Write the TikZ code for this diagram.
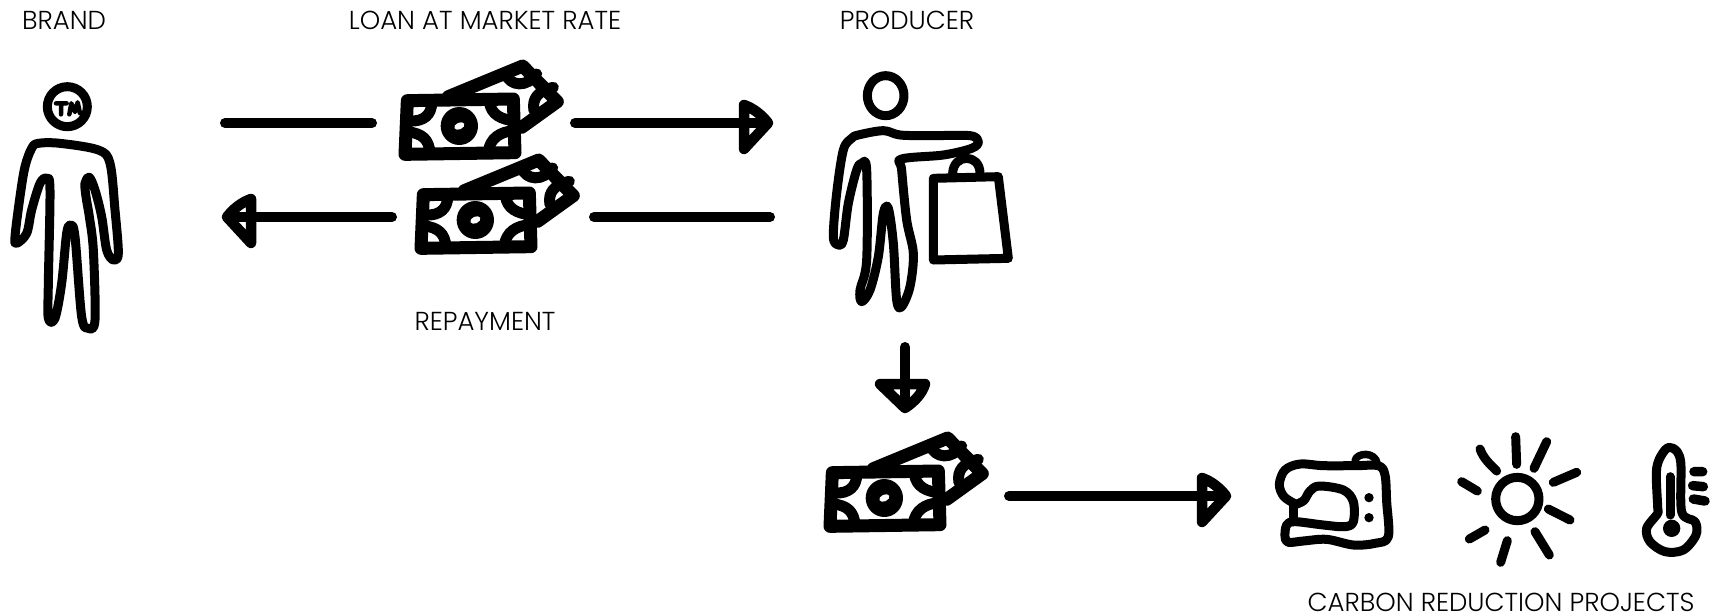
\documentclass[tikz,border=0pt]{standalone}
\usepackage{fontspec}
\setmainfont{Poppins}[UprightFont=* Light]
\tikzset{
  x=1pt,y=-1pt,
  ink/.style={draw=black,line width=9.5pt,line cap=round,line join=round},
  thinink/.style={draw=black,line width=9pt,line cap=round,line join=round},
  shaft/.style={draw=black,line width=10pt,line cap=round},
  headtip/.style={draw=black,line width=10.5pt,line join=round,line cap=round},
  lab/.style={font=\fontsize{26}{30}\selectfont,text=black,inner sep=0pt,anchor=center},
  money/.pic={
    \begin{scope}[scale=1/3]
      \draw[ink,line width=13pt,fill=white] (175,140) -- (398,48) -- (502,155) -- (395,232);
      \draw[ink,line width=11pt] (345,68) .. controls (360,112) and (412,112) .. (440,72);
      \draw[ink,line width=11pt] (432,182) .. controls (425,145) and (445,122) .. (490,112);
      \draw[ink,line width=13pt,fill=white] (52,152) -- (370,147) -- (375,308) -- (45,313) -- cycle;
      \draw[ink,line width=11pt] (60,213) .. controls (100,215) and (125,195) .. (125,158);
      \draw[ink,line width=11pt] (298,155) .. controls (303,195) and (335,208) .. (370,212);
      \draw[ink,line width=11pt] (50,245) .. controls (100,250) and (115,270) .. (120,305);
      \draw[ink,line width=11pt] (295,305) .. controls (300,265) and (330,245) .. (372,242);
      \fill[black] (208,228) ellipse [x radius=56,y radius=57];
      \fill[white,rotate around={25:(208,228)}] (208,228) ellipse [x radius=16,y radius=10];
    \end{scope}
  }
}
\begin{document}
\begin{tikzpicture}
\fill[white] (0,0) rectangle (1714,614);
\useasboundingbox (0,0) rectangle (1714,614);

% labels
\node[lab] (brand) at (64,20) {BRAND};
\node[lab] (loan) at (485,20) {LOAN AT MARKET RATE};
\node[lab] (producer) at (907,20) {PRODUCER};
\node[lab] (repayment) at (485,321) {REPAYMENT};
\node[lab] (carbon) at (1501,602) {CARBON REDUCTION PROJECTS};

% brand person
\begin{scope}[shift={(0,50)},scale=1/3]
  \draw[thinink] (202,170) circle (60);
  \draw[ink,line width=4.5pt] (168,160) -- (200,160) (184,160) -- (183,193);
  \draw[ink,line width=4.5pt] (208,193) -- (214,160) -- (225,186) -- (233,157) -- (240,190);
  \draw[thinink] plot[smooth cycle,tension=0.55] coordinates {
    (115,280) (180,280) (295,300) (330,340) (345,480) (355,610) (340,630) (320,600)
    (305,500) (285,420) (268,382) (255,400) (258,440) (268,500) (280,600) (285,810) (265,835) (245,800)
    (225,560) (212,525) (200,550) (185,700) (165,805) (145,805) (145,700) (150,420)
    (140,385) (120,400) (95,480) (80,550) (50,580) (45,560) (60,440) (75,350) (95,295)};
\end{scope}

% producer person
\begin{scope}[shift={(820,60)},scale=1/3]
  \draw[thinink] (197,107) ellipse [x radius=55,y radius=60];
  \draw[thinink] plot[smooth cycle,tension=0.55] coordinates {
    (115,225) (190,212) (240,225) (330,227) (450,227) (475,245) (455,265) (370,285)
    (245,297) (245,330) (260,480) (280,580) (270,680) (245,740) (230,720) (220,550)
    (205,445) (190,460) (175,590) (150,690) (125,725) (120,690) (140,600) (140,330)
    (125,310) (110,330) (85,430) (70,540) (55,555) (40,530) (50,400) (70,270) (95,235)};
  \draw[thinink] (398,340) .. controls (400,280) and (480,280) .. (480,340);
  \draw[thinink,fill=white] (340,355) -- (535,350) -- (565,595) -- (340,600) -- cycle;
\end{scope}

% money
\pic (moneyA) at (390,50) {money};
\pic (moneyB) at (406,144) {money};
\pic (moneyC) at (815,422) {money};

% connectors
\coordinate (a1s) at (225,123);  \coordinate (a1e) at (372,123);
\coordinate (a2s) at (575,123);  \coordinate (a2e) at (768,123);
\coordinate (a3s) at (392,217);  \coordinate (a3e) at (227,217);
\coordinate (a4s) at (594,217);  \coordinate (a4e) at (770,217);
\coordinate (a5s) at (905,347);  \coordinate (a5e) at (905,408);
\coordinate (a6s) at (1009,496); \coordinate (a6e) at (1226,496);

\draw[shaft] (a1s) -- (a1e);
\draw[shaft] (a4s) -- (a4e);
\draw[shaft] (a2s) -- (a2e);
\draw[shaft] (a3s) -- (a3e);
\draw[shaft] (a5s) -- (a5e);
\draw[shaft] (a6s) -- (a6e);
\draw[headtip] (744,105) .. controls (753,108) and (762,115) .. (a2e) -- (744,149) -- cycle;
\draw[headtip] (251,199) .. controls (242,202) and (233,209) .. (a3e) -- (251,243) -- cycle;
\draw[headtip] (880,384) -- (925,384) .. controls (922,394) and (914,402) .. (a5e) -- cycle;
\draw[headtip] (1202,478) .. controls (1211,481) and (1220,488) .. (a6e) -- (1202,522) -- cycle;

% sewing machine, sun, thermometer
\begin{scope}[shift={(1260,425)},scale=1/3]
  \draw[thinink] plot[smooth,tension=0.55] coordinates {
    (108,238) (72,215) (58,178) (75,135) (120,117) (190,122) (290,122) (355,122) (375,150)
    (380,230) (385,335) (345,355) (280,360) (200,343) (130,348) (85,352) (75,335)
    (80,300) (105,290) (190,300) (255,305) (280,290) (280,230) (250,195) (178,183)
    (150,198) (132,226) (108,238)};
  \draw[thinink] (100,240) -- (100,290);
  \draw[thinink,line width=7.5pt] (285,108) .. controls (288,82) and (348,78) .. (352,118);
  \fill[black] (327,218) circle (14) (327,278) circle (14);

  \draw[thinink] (772,222) circle (65);
  \draw[thinink] (767,35) -- (770,118);
  \draw[thinink] (660,72) .. controls (670,100) and (690,118) .. (710,138);
  \draw[thinink] (860,50) -- (822,130);
  \draw[thinink] (605,170) -- (652,198);
  \draw[thinink] (950,142) -- (880,172);
  \draw[thinink] (865,252) -- (930,285);
  \draw[thinink] (675,315) -- (628,342);
  \draw[thinink] (825,320) -- (868,390);
  \draw[thinink] (742,347) -- (722,412);

  \draw[thinink] plot[smooth cycle,tension=0.55] coordinates {
    (1193,245) (1190,130) (1215,75) (1240,70) (1262,110) (1265,260) (1305,290) (1308,330)
    (1270,375) (1215,380) (1170,350) (1160,310) (1193,265)};
  \draw[thinink] (1230,155) -- (1230,270);
  \fill[black] (1235,310) circle (26);
  \draw[ink] (1302,140) -- (1328,140) (1298,182) -- (1330,185) (1300,222) -- (1335,228);
\end{scope}
\end{tikzpicture}
\end{document}
